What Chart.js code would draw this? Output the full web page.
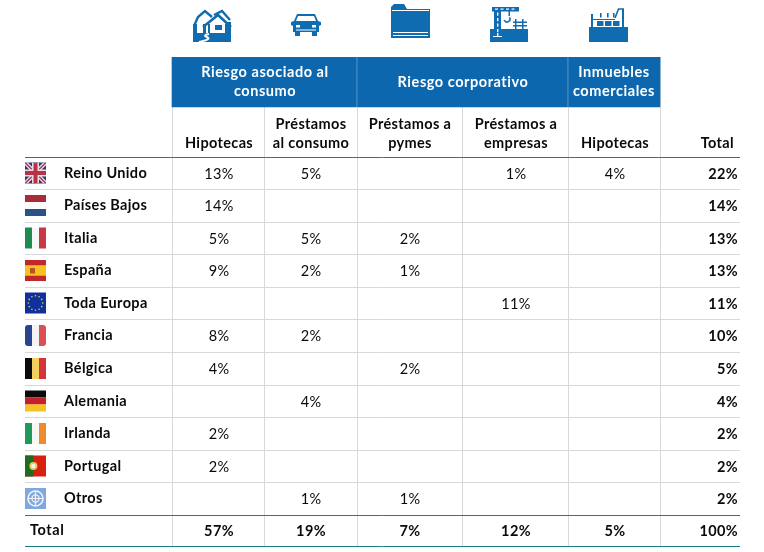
<!DOCTYPE html>
<html><head><meta charset="utf-8">
<style>html,body{margin:0;padding:0;background:#fff}canvas{display:block}</style>
<script src="https://cdn.jsdelivr.net/npm/chart.js@4/dist/chart.umd.min.js"></script>
</head><body><canvas id="c" width="764" height="552"></canvas>
<script>
const rowNames=['Reino Unido','Países Bajos','Italia','España','Toda Europa','Francia','Bélgica','Alemania','Irlanda','Portugal','Otros','Total'];
const hipotecas=[13,14,5,9,null,8,4,null,2,2,null,57];
const consumo=[5,null,5,2,null,2,null,4,null,null,1,19];
const pymes=[null,null,2,1,null,null,2,null,null,null,1,7];
const empresas=[1,null,null,null,11,null,null,null,null,null,null,12];
const comerciales=[4,null,null,null,null,null,null,null,null,null,null,5];
const totals=[22,14,13,13,11,10,5,4,2,2,2,100];
const subHeaders=[['Hipotecas'],['Préstamos','al consumo'],['Préstamos a','pymes'],['Préstamos a','empresas'],['Hipotecas'],['Total']];
const groupHeaders=[['Riesgo asociado al','consumo'],['Riesgo corporativo'],['Inmuebles','comerciales']];

// layout (table geometry, in the page units used by both linear scales)
const colEdges=[172,264,357,462,568,660];
const colCenters=[219,311,410,516,615];
const totalRight=738, subTotalRight=734;
const rowEdges=[157,189,222,254,287,319,352,385,417,450,482,515,546];
const tealRows=[0,11,12];
const rowMid=i=>(rowEdges[i]+rowEdges[i+1])/2;
const groupSpans=[[172,356.5],[357.5,567.5],[568.5,660]];
const groupCenters=[265,463,614];
const FONT='Lato';
const BLUE='#0c67ae', ICON='#0f6cb0', TEAL='#1a8088', GRID='#d6d9dc', INK='#0a0a0a';

function cellData(values,x){return values.map((v,i)=>v==null?null:{x,y:rowMid(i)+1,v,row:i}).filter(Boolean);}
const seriesList=[hipotecas,consumo,pymes,empresas,comerciales];
const datasets=[
 {type:'bar',indexAxis:'y',grouped:false,barThickness:50,backgroundColor:BLUE,borderWidth:0,
  data:groupSpans.map(s=>({x:s,y:82}))},
 ...seriesList.map((s,k)=>({type:'scatter',pointRadius:0,showLine:false,pct:true,data:cellData(s,colCenters[k])})),
 {type:'scatter',pointRadius:0,showLine:false,pct:true,totalCol:true,data:cellData(totals,totalRight)}
];

function stripesV(c,x,y,w,h,cols){cols.forEach((col,i)=>{c.fillStyle=col;c.fillRect(x+i*w/cols.length,y,w/cols.length,h);});}
function stripesH(c,x,y,w,h,cols){cols.forEach((col,i)=>{c.fillStyle=col;c.fillRect(x,y+i*h/cols.length,w,h/cols.length);});}
const flags=[
 (c,x,y,w,h)=>{c.fillStyle='#2b3a78';c.fillRect(x,y,w,h);
  c.save();c.beginPath();c.rect(x,y,w,h);c.clip();
  c.strokeStyle='#e8dfe4';c.lineWidth=4;c.beginPath();c.moveTo(x,y);c.lineTo(x+w,y+h);c.moveTo(x+w,y);c.lineTo(x,y+h);c.stroke();
  c.strokeStyle='#b5324a';c.lineWidth=1.4;c.beginPath();c.moveTo(x,y);c.lineTo(x+w,y+h);c.moveTo(x+w,y);c.lineTo(x,y+h);c.stroke();
  c.fillStyle='#e8dfe4';c.fillRect(x+w/2-3.5,y,7,h);c.fillRect(x,y+h/2-3.5,w,7);
  c.fillStyle='#b5324a';c.fillRect(x+w/2-2,y,4,h);c.fillRect(x,y+h/2-2,w,4);c.restore();},
 (c,x,y,w,h)=>stripesH(c,x,y,w,h,['#a82c3a','#fbfbfb','#2c5186']),
 (c,x,y,w,h)=>stripesV(c,x,y,w,h,['#1f8a50','#f6f6f4','#c53a44']),
 (c,x,y,w,h)=>{c.fillStyle='#c0282d';c.fillRect(x,y,w,h);c.fillStyle='#f6c21c';c.fillRect(x,y+h/4,w,h/2);c.fillStyle='#b8502a';c.fillRect(x+5,y+8,5,5.5);},
 (c,x,y,w,h)=>{c.fillStyle='#12309a';c.fillRect(x,y,w,h);c.fillStyle='#e8d84a';
  for(let a=0;a<12;a++){const t=a*Math.PI/6;c.beginPath();c.arc(x+w/2+Math.cos(t)*7.2,y+h/2+Math.sin(t)*7.2,0.8,0,7);c.fill();}},
 (c,x,y,w,h)=>{c.save();c.beginPath();c.roundRect(x,y,w,h,3);c.clip();stripesV(c,x,y,w,h,['#27468f','#f7f3f3','#d94f55']);c.restore();},
 (c,x,y,w,h)=>stripesV(c,x,y,w,h,['#0b0b0b','#f3cf5e','#d2343a']),
 (c,x,y,w,h)=>stripesH(c,x,y,w,h,['#0b0b0b','#c8202a','#f5c422']),
 (c,x,y,w,h)=>stripesV(c,x,y,w,h,['#1f9a5c','#f6f6f2','#ee8b2e']),
 (c,x,y,w,h)=>{c.fillStyle='#d8200f';c.fillRect(x,y,w,h);c.fillStyle='#1f6b22';c.fillRect(x,y,w*0.4,h);
  c.fillStyle='#e6c95a';c.beginPath();c.arc(x+w*0.4,y+h/2,4,0,7);c.fill();c.fillStyle='#f2f2f2';c.beginPath();c.arc(x+w*0.4,y+h/2,2.2,0,7);c.fill();},
 (c,x,y,w,h)=>{c.fillStyle='#7fa8dc';c.fillRect(x,y,w,h);c.strokeStyle='#eef3fa';c.lineWidth=1.6;
  c.beginPath();c.arc(x+w/2,y+h/2,7.5,0,7);c.stroke();c.lineWidth=1.2;c.beginPath();c.arc(x+w/2,y+h/2,3.6,0,7);c.moveTo(x+w/2-7,y+h/2);c.lineTo(x+w/2+7,y+h/2);c.moveTo(x+w/2,y+h/2-7);c.lineTo(x+w/2,y+h/2+7);c.stroke();}
];

function poly(c,pts){c.beginPath();pts.forEach((p,i)=>i?c.lineTo(p[0],p[1]):c.moveTo(p[0],p[1]));c.closePath();c.fill();}
function path(c,pts,w,col){c.strokeStyle=col;c.lineWidth=w;c.beginPath();pts.forEach((p,i)=>i?c.lineTo(p[0],p[1]):c.moveTo(p[0],p[1]));c.stroke();}
function iconHouse(c){c.fillStyle=ICON;
 c.fillRect(193,33,38,9);c.fillRect(193,24,4,12);c.fillRect(227,22,4,14);c.fillRect(203,24,3,10);
 path(c,[[194,26],[198,17],[205,11],[212,17]],2.4,ICON);
 path(c,[[214,15],[222,11],[230,20]],2.4,ICON);
 path(c,[[203,27],[218,15],[231,27]],2.6,ICON);
 c.fillRect(208,24,2,10);c.fillRect(225,24,2,10);
 c.fillRect(215,25,7,5);
 c.strokeStyle='#fff';c.lineWidth=2;c.beginPath();c.moveTo(209,34);c.bezierCurveTo(196,37,221,37,199,42);c.stroke();}
function iconCar(c){c.fillStyle=ICON;
 poly(c,[[297,14],[315,14],[318,21],[321,22],[321,25],[319,26],[319,32],[317,32],[317,36],[312,36],[312,32],[300,32],[300,36],[295,36],[295,32],[293,32],[293,26],[291,25],[291,22],[294,21]]);
 c.fillStyle='#fff';poly(c,[[298,16],[314,16],[316,21],[296,21]]);
 c.fillRect(296,25,4,2.5);c.fillRect(312,25,4,2.5);c.fillRect(296,29.5,20,1);}
function iconFolder(c){c.fillStyle=ICON;
 poly(c,[[391,10],[391,7],[394,4],[404,4],[407,9],[430,9],[430,38],[391,38]]);
 c.fillStyle='#fff';c.fillRect(392,10,37,1);c.fillRect(393,32,35,1);c.fillRect(393,35,35,1);}
function iconCrane(c){c.fillStyle=ICON;
 c.fillRect(490,29,38,13);c.fillRect(492,7,27,4.5);c.fillRect(494,11,7,20);
 c.fillRect(508.5,11,1.5,5);
 c.strokeStyle=ICON;c.lineWidth=1.5;c.beginPath();c.arc(507,19,3,-0.6,2.8);c.stroke();
 c.fillRect(515,19,1.5,10);c.fillRect(522,19,1.5,10);c.fillRect(513,21.5,14,1.5);c.fillRect(513,25,14,1.5);
 c.fillStyle='#fff';for(let i=0;i<4;i++){c.fillRect(495+i*5.5,8.5,3,1.2);}
 for(let i=0;i<4;i++){c.fillRect(497,12.5+i*5.5,1.4,3.2);}
 c.fillRect(497,33,1.4,3);c.fillRect(493,36,9,1);}
function iconFactory(c){c.fillStyle=ICON;
 c.fillRect(589,27,39,15);
 path(c,[[592,14],[592,28]],2,ICON);
 path(c,[[623,9],[623,28]],2,ICON);
 path(c,[[615,18],[618.5,9],[624,9]],1.6,ICON);
 path(c,[[592,19.5],[615,19.5]],1,ICON);
 c.fillStyle=ICON;c.fillRect(600,13,1.6,4.5);c.fillRect(607,13,1.6,4.5);c.fillRect(613,13,1.6,4.5);
 c.fillRect(597,21,6.5,5);c.fillRect(605,21,6.5,5);c.fillRect(613,21,6.5,5);}

const tablePlugin={id:'tablePlugin',afterDatasetsDraw(chart){
 const c=chart.ctx,X=chart.scales.x,Y=chart.scales.y;
 c.save();
 const txt=(s,x,y,font,color,align,ls)=>{c.font=font;c.fillStyle=color;c.textAlign=align||'center';c.textBaseline='middle';if('letterSpacing' in c)c.letterSpacing=ls||'0.35px';c.fillText(s,x,y);};
 const BOLD=`bold 14.5px ${FONT}`, REG=`14.5px ${FONT}`;
 [iconHouse,iconCar,iconFolder,iconCrane,iconFactory].forEach(f=>f(c));
 groupHeaders.forEach((lines,i)=>{const cx=X.getPixelForValue(groupCenters[i]);
  const ys=lines.length===2?[72,91]:[82];
  lines.forEach((l,j)=>txt(l,cx,Y.getPixelForValue(ys[j]),BOLD,'#fff','center','0.55px'));});
 subHeaders.forEach((lines,i)=>{
  const right=i===5; const cx=X.getPixelForValue(right?subTotalRight:colCenters[i]);
  const ys=lines.length===2?[124,143]:[143];
  lines.forEach((l,j)=>txt(l,cx,Y.getPixelForValue(ys[j]),BOLD,INK,right?'right':'center'));});
 rowNames.forEach((n,i)=>{const y=Y.getPixelForValue(rowMid(i));
  if(i<11){txt(n,X.getPixelForValue(64),y,BOLD,INK,'left');
   flags[i](c,X.getPixelForValue(25),y-10.5,21,21);}
  else txt(n,X.getPixelForValue(30),y,BOLD,INK,'left','0.6px');});
 chart.data.datasets.forEach((ds,di)=>{ if(!ds.pct)return;
  chart.getDatasetMeta(di).data.forEach((pt,k)=>{const d=ds.data[k];
   const bold=ds.totalCol||d.row===11;
   txt(d.v+'%',pt.x,pt.y,bold?BOLD:REG,INK,ds.totalCol?'right':'center');});});
 c.restore();
}};

new Chart(document.getElementById('c'),{
 type:'scatter',
 data:{datasets},
 options:{responsive:false,animation:false,devicePixelRatio:1,
  layout:{padding:{left:25,right:24,top:57,bottom:5}},
  plugins:{legend:{display:false},tooltip:{enabled:false},title:{display:false}},
  scales:{
   x:{type:'linear',min:25,max:740,offset:false,
    afterBuildTicks(a){a.ticks=colEdges.map(v=>({value:v}));},
    ticks:{display:false},border:{display:false},
    grid:{offset:false,drawTicks:false,color:GRID,lineWidth:1}},
   y:{type:'linear',reverse:true,min:57,max:547,offset:false,
    afterBuildTicks(a){a.ticks=rowEdges.map(v=>({value:v}));},
    ticks:{display:false},border:{display:false},
    grid:{offset:false,drawTicks:false,lineWidth:1,color(ctx){return tealRows.includes(rowEdges.indexOf(ctx.tick&&ctx.tick.value))?TEAL:GRID;}}}
  }},
 plugins:[tablePlugin]
});
</script></body></html>
